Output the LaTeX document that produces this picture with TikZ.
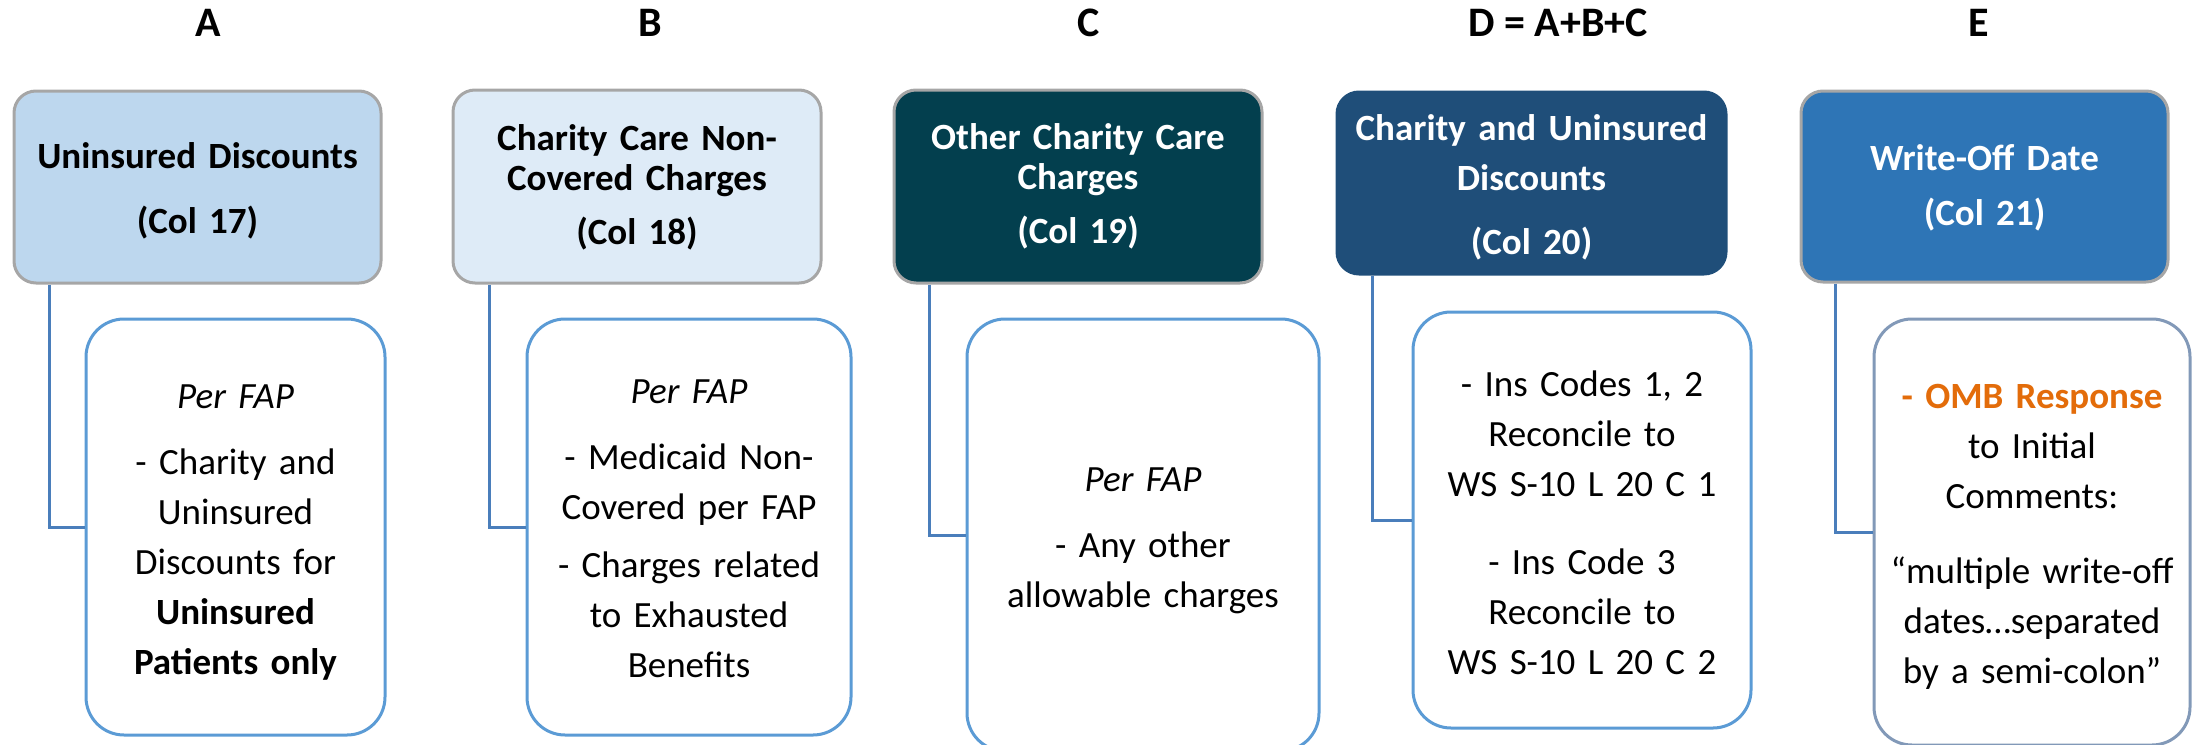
\documentclass[tikz,border=0pt]{standalone}
\usepackage{fontspec}
\setmainfont{Carlito}
\usetikzlibrary{calc}

\definecolor{hdrgray}{HTML}{A6A6A6}
\definecolor{fillA}{HTML}{BDD7EE}
\definecolor{fillB}{HTML}{DEEBF7}
\definecolor{fillC}{HTML}{033F4E}
\definecolor{fillD}{HTML}{1F4E79}
\definecolor{fillE}{HTML}{2E75B6}
\definecolor{detblue}{HTML}{5B9BD5}
\definecolor{detgray}{HTML}{8299B8}
\definecolor{connblue}{HTML}{4A7EBB}
\definecolor{ombor}{HTML}{E36C0A}

\begin{document}
\begin{tikzpicture}[x=0.5pt,y=-0.5pt,
  hdrbox/.style={rectangle, rounded corners=11pt, line width=1.5pt, draw=hdrgray, inner sep=0pt},
  detbox/.style={rectangle, rounded corners=19pt, line width=1.5pt, draw=detblue, fill=white, inner sep=0pt},
  coltitle/.style={anchor=base, inner sep=0pt, font=\bfseries\fontsize{21}{25}\selectfont},
  hdrtext/.style={anchor=base, inner sep=0pt, text width=196pt, align=center,
    font=\bfseries\fontsize{18.5}{20}\selectfont},
  dettext/.style={anchor=base, inner sep=0pt, text width=172pt, align=center,
    font=\fontsize{18.5}{25}\selectfont},
  conn/.style={draw=connblue, line width=1.5pt}]
\useasboundingbox (0,0) rectangle (2194,744);

% column letters
\node[coltitle] (lA) at (208,36) {A};
\node[coltitle] (lB) at (650,36) {B};
\node[coltitle] (lC) at (1089,36) {C};
\node[coltitle] (lD) at (1558,36) {D = A+B+C};
\node[coltitle] (lE) at (1979,36) {E};

% header boxes
\node[hdrbox, fill=fillA, minimum width=183.5pt, minimum height=96pt] (hA) at (197.5,187) {};
\node[hdrbox, fill=fillB, minimum width=184pt, minimum height=96.5pt] (hB) at (637,186.5) {};
\node[hdrbox, fill=fillC, minimum width=184pt, minimum height=96.5pt] (hC) at (1078,186.5) {};
\node[hdrbox, fill=fillD, draw=fillD, minimum width=194.5pt, minimum height=91pt] (hD) at (1531.5,183) {};
\node[hdrbox, fill=fillE, minimum width=183.5pt, minimum height=95.5pt] (hE) at (1984.5,186.5) {};

% detail boxes
\node[detbox, minimum width=149.5pt, minimum height=208pt] (dA) at (235.5,527) {};
\node[detbox, minimum width=162pt, minimum height=208pt] (dB) at (689,527) {};
\node[detbox, minimum width=176pt, minimum height=216pt] (dC) at (1143,535) {};
\node[detbox, minimum width=169pt, minimum height=208pt] (dD) at (1582,520) {};
\node[detbox, draw=detgray, minimum width=158pt, minimum height=213pt] (dE) at (2032,532) {};

% elbow connectors from header to detail box
\draw[conn] ($(hA.south west)+(37,0)$) |- (dA.west);
\draw[conn] ($(hB.south west)+(38,0)$) |- (dB.west);
\draw[conn] ($(hC.south west)+(37,0)$) |- (dC.west);
\draw[conn] ($(hD.south west)+(37,0)$) |- (dD.west);
\draw[conn] ($(hE.south west)+(36,0)$) |- (dE.west);

% header texts
\node[hdrtext] (tA) at (197.5,168) {Uninsured Discounts\\[12.5pt](Col 17)};
\node[hdrtext] (tB) at (637,150) {Charity Care Non-\\Covered Charges\\[7pt](Col 18)};
\node[hdrtext, text=white] (tC) at (1078,149) {Other Charity Care\\Charges\\[7pt](Col 19)};
\node[hdrtext, text=white] (tD) at (1531.5,140) {Charity and Uninsured\\[5pt]Discounts\\[12pt](Col 20)};
\node[hdrtext, text=white] (tE) at (1984.5,170) {Write-Off Date\\[7.5pt](Col 21)};

% detail texts
\node[dettext] (xA) at (235.5,408) {\textit{Per FAP}\\[8pt]- Charity and\\Uninsured\\Discounts for\\\textbf{Uninsured}\\\textbf{Patients only}};
\node[dettext] (xB) at (689,403) {\textit{Per FAP}\\[8pt]- Medicaid Non-\\Covered per FAP\\[4pt]- Charges related\\to Exhausted\\Benefits};
\node[dettext] (xC) at (1143,491) {\textit{Per FAP}\\[8pt]- Any other\\allowable charges};
\node[dettext] (xD) at (1582,396) {- Ins Codes 1, 2\\Reconcile to\\WS S-10 L 20 C 1\\[14pt]- Ins Code 3\\Reconcile to\\WS S-10 L 20 C 2};
\node[dettext] (xE) at (2032,408) {\textbf{\color{ombor}- OMB Response}\\to Initial\\Comments:\\[12.5pt]“multiple write-off\\dates…separated\\by a semi-colon”};
\end{tikzpicture}
\end{document}
